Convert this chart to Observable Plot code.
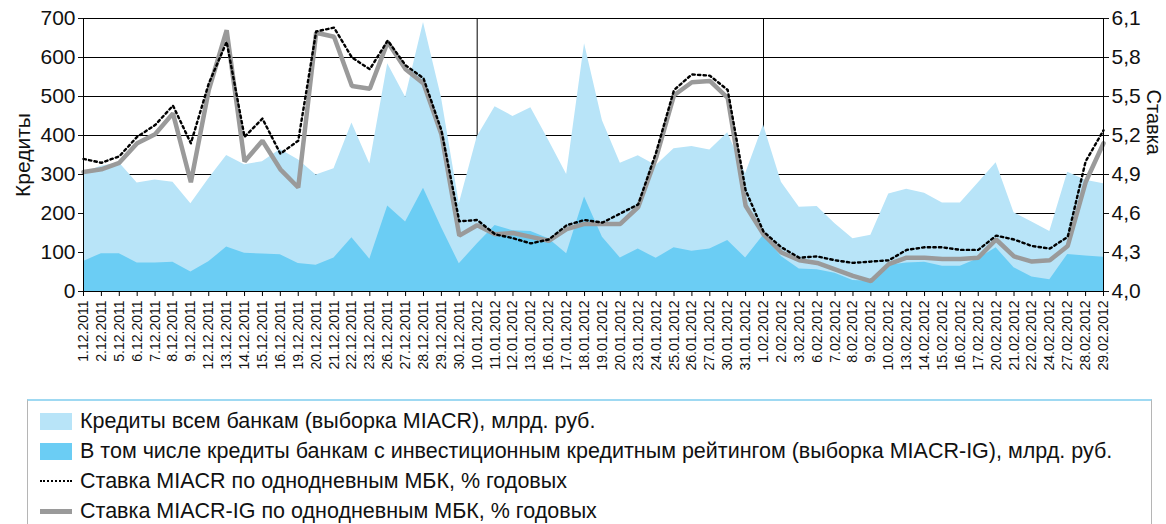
<!DOCTYPE html>
<html>
<head>
<meta charset="utf-8">
<script src="https://cdn.jsdelivr.net/npm/d3@7"></script>
<script src="https://cdn.jsdelivr.net/npm/@observablehq/plot@0.6"></script>
<style>
  html, body { margin: 0; padding: 0; background: #fff; }
  body { width: 1166px; height: 524px; overflow: hidden; font-family: "Liberation Sans", Arial, sans-serif; }
  #chart svg { display: block; }
  .legend { position: absolute; left: 27px; top: 399px; width: 1125px; height: 140px;
            border-top: 2px solid #9fd9f2; border-left: 1px solid #b5b5b5; border-right: 1px solid #b5b5b5; box-sizing: border-box; }
  .row { position: absolute; left: 0; height: 30px; display: flex; align-items: center; font-size: 21.5px; color: #111; white-space: nowrap; }
  .sw { width: 32px; margin-left: 12px; margin-right: 8px; flex: none; }
</style>
</head>
<body>
<div id="chart"></div>
<div class="legend" id="legend"></div>
<script>
const dates = ["1.12.2011","2.12.2011","5.12.2011","6.12.2011","7.12.2011","8.12.2011","9.12.2011","12.12.2011","13.12.2011","14.12.2011","15.12.2011","16.12.2011","19.12.2011","20.12.2011","21.12.2011","22.12.2011","23.12.2011","26.12.2011","27.12.2011","28.12.2011","29.12.2011","30.12.2011",
"10.01.2012","11.01.2012","12.01.2012","13.01.2012","16.01.2012","17.01.2012","18.01.2012","19.01.2012","20.01.2012","23.01.2012","24.01.2012","25.01.2012","26.01.2012","27.01.2012","30.01.2012","31.01.2012",
"1.02.2012","2.02.2012","3.02.2012","6.02.2012","7.02.2012","8.02.2012","9.02.2012","10.02.2012","13.02.2012","14.02.2012","15.02.2012","16.02.2012","17.02.2012","20.02.2012","21.02.2012","22.02.2012","24.02.2012","27.02.2012","28.02.2012","29.02.2012"];

// Кредиты всем банкам (MIACR), млрд руб.
const allBanks = [305,321,330,278,286,280,225,289,349,325,333,364,338,299,315,432,327,584,498,690,498,225,
396,474,449,471,387,300,635,438,329,348,323,366,372,363,407,302,
427,280,216,218,174,135,144,250,262,252,227,227,278,330,202,178,154,306,285,276];

// В том числе кредиты банкам с инвестиционным рейтингом (MIACR-IG), млрд руб.
const igBanks = [77,97,97,73,73,75,50,76,114,98,96,94,72,67,86,138,83,219,178,265,165,71,
122,169,156,154,135,97,242,139,86,109,85,112,103,109,131,86,
144,90,58,56,47,28,26,67,73,75,65,65,84,112,61,37,30,95,91,88];

// Ставка MIACR, % годовых
const rateMiacr = [5.02,4.99,5.04,5.19,5.28,5.43,5.14,5.60,5.92,5.19,5.33,5.06,5.16,6.00,6.03,5.80,5.71,5.93,5.74,5.64,5.24,4.54,
4.55,4.44,4.41,4.37,4.40,4.51,4.55,4.53,4.60,4.67,5.07,5.55,5.67,5.66,5.55,4.78,
4.46,4.34,4.26,4.27,4.24,4.22,4.23,4.24,4.32,4.34,4.34,4.32,4.32,4.43,4.40,4.35,4.33,4.42,5.00,5.24];

// Ставка MIACR-IG, % годовых
const rateIg = [4.92,4.94,4.99,5.14,5.21,5.37,4.84,5.55,6.01,5.00,5.16,4.94,4.80,5.99,5.96,5.58,5.56,5.92,5.71,5.60,5.21,4.43,
4.51,4.44,4.45,4.42,4.39,4.48,4.52,4.52,4.52,4.65,5.03,5.51,5.61,5.62,5.49,4.66,
4.44,4.30,4.24,4.22,4.17,4.12,4.08,4.21,4.26,4.26,4.25,4.25,4.26,4.40,4.27,4.23,4.24,4.35,4.84,5.14];

const leftTicks = [0,100,200,300,400,500,600,700];
const rightTicks = ["4,0","4,3","4,6","4,9","5,2","5,5","5,8","6,1"];
const monthStarts = ["10.01.2012","1.02.2012"];
const rateMin = 4.0, rateMax = 6.1, creditMax = 700;
const toLeft = r => (r - rateMin) / (rateMax - rateMin) * creditMax;

const colLight = "#b8e4f8", colDark = "#6bcdf4", colGrey = "#9a9a9a";

const data = dates.map((d, i) => ({
  date: d, all: allBanks[i], ig: igBanks[i],
  miacr: toLeft(rateMiacr[i]), igRate: toLeft(rateIg[i])
}));

const chart = Plot.plot({
  width: 1166,
  height: 392,
  marginLeft: 83,
  marginRight: 63,
  marginTop: 18,
  marginBottom: 101,
  style: { fontFamily: "'Liberation Sans', Arial, sans-serif", color: "#111", background: "#fff", overflow: "visible" },
  x: { type: "point", domain: dates, padding: 0 },
  y: { domain: [0, creditMax] },
  marks: [
    Plot.gridY(leftTicks.slice(1, -1), { stroke: "#000", strokeOpacity: 1, strokeWidth: 1 }),
    Plot.ruleX(monthStarts, { stroke: "#000", strokeWidth: 1 }),
    Plot.areaY(data, { x: "date", y: "all", fill: colLight }),
    Plot.areaY(data, { x: "date", y: "ig", fill: colDark }),
    Plot.lineY(data, { x: "date", y: "igRate", stroke: colGrey, strokeWidth: 4.5, strokeLinejoin: "miter" }),
    Plot.lineY(data, { x: "date", y: "miacr", stroke: "#000", strokeWidth: 2.4, strokeDasharray: "2.4,3.2" }),
    Plot.frame({ stroke: "#000", strokeWidth: 1 }),
    Plot.axisX({ tickRotate: -90, tickSize: 5, tickPadding: 4, fontSize: 14, label: null, stroke: "#000" }),
    Plot.axisY(leftTicks, { anchor: "left", tickSize: 5, tickPadding: 3, fontSize: 21, label: "Кредиты", labelAnchor: "center", labelArrow: "none", labelOffset: 68 }),
    Plot.axisY(leftTicks, { anchor: "right", tickSize: 5, tickPadding: 3, fontSize: 21,
      tickFormat: d => rightTicks[leftTicks.indexOf(d)], label: null }),
    Plot.text(["Ставка"], { frameAnchor: "right", dx: 50, rotate: 90, fontSize: 20, fill: "#111" })
  ]
});
document.getElementById("chart").appendChild(chart);

const legendItems = [
  { type: "box", color: colLight, text: "Кредиты всем банкам (выборка MIACR), млрд. руб." },
  { type: "box", color: colDark, text: "В том числе кредиты банкам с инвестиционным кредитным рейтингом (выборка MIACR-IG), млрд. руб." },
  { type: "dot", color: "#000", text: "Ставка MIACR по однодневным МБК, % годовых" },
  { type: "line", color: colGrey, text: "Ставка MIACR-IG по однодневным МБК, % годовых" }
];
const leg = document.getElementById("legend");
legendItems.forEach((it, i) => {
  const row = document.createElement("div");
  row.className = "row";
  row.style.top = (5 + i * 30) + "px";
  const sw = document.createElement("div");
  sw.className = "sw";
  if (it.type === "box") { sw.style.height = "17px"; sw.style.background = it.color; }
  else if (it.type === "dot") { sw.style.height = "0"; sw.style.borderTop = "2.5px dotted " + it.color; }
  else { sw.style.height = "5px"; sw.style.background = it.color; }
  row.appendChild(sw);
  const t = document.createElement("span");
  t.textContent = it.text;
  row.appendChild(t);
  leg.appendChild(row);
});
</script>
</body>
</html>
